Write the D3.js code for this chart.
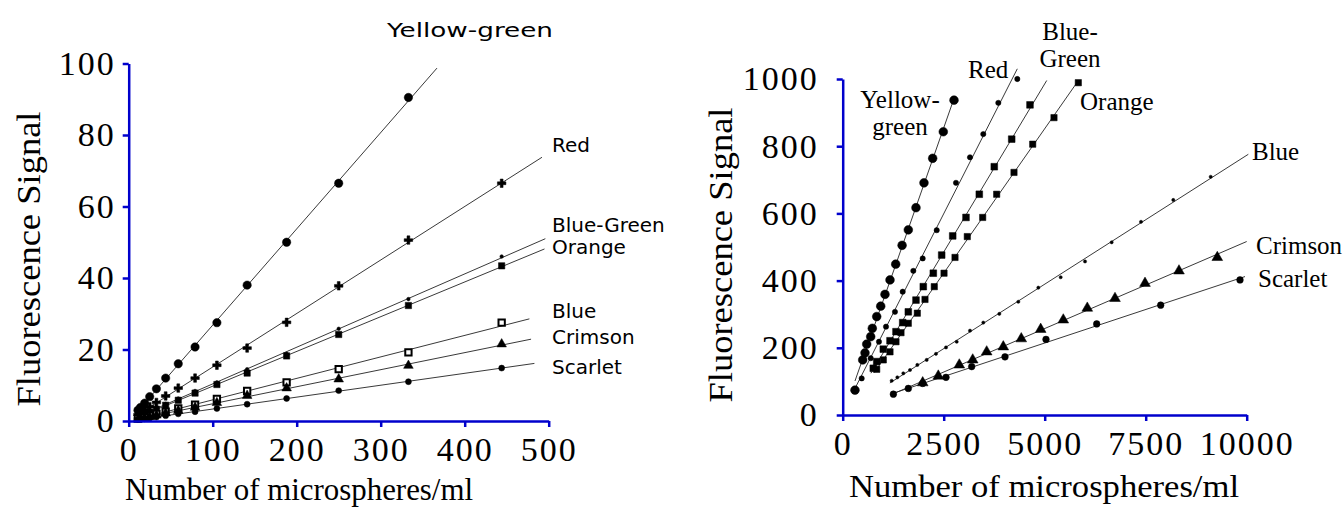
<!DOCTYPE html>
<html>
<head>
<meta charset="utf-8">
<script src="https://cdn.jsdelivr.net/npm/d3@7"></script>
<style>
  body { margin: 0; background: #fff; }
  svg { display: block; }
</style>
</head>
<body>
<svg id="chart" width="1343" height="508"></svg>
<script>
// ---- data: left panel (low range, microspheres/ml up to 500) ----
const seriesNames = ["Yellow-green", "Red", "Blue-Green", "Orange", "Blue", "Crimson", "Scarlet"];

const lowX = [444, 333, 250, 188, 141, 105, 79, 59, 44, 33, 25, 19, 14, 11];
const lowYellowGreen = [null, 90.5, 66.5, 50, 38, 27.5, 20.7, 16, 12, 9, 6.8, 5, 3.8, 3];
const lowRed = [66.5, 50.6, 37.8, 27.6, 20.4, 15.6, 12, 9.2, 7, 5.2, 4, 3.1, 2.3, 1.8];
const lowBlueGreen = [46, 34.1, 25.8, 18.8, 14.5, 10.8, 8.4, 6.3, 4.8, 3.6, 2.7, 2.1, 1.6, 1.2];
const lowOrange = [43.4, 32.3, 24.2, 18.2, 13.4, 10.2, 7.8, 5.8, 4.4, 3.3, 2.5, 1.9, 1.4, 1.1];
const lowBlue = [27.5, 19.2, 14.5, 10.8, 8.4, 6.2, 4.6, 3.5, 2.6, 2, 1.5, 1.1, 0.9, 0.7];
const lowCrimson = [21.5, 15.5, 11.7, 9.2, 7.1, 5.1, 3.8, 2.9, 2.2, 1.6, 1.2, 0.9, 0.7, 0.5];
const lowScarlet = [14.8, 11, 8.5, 6.3, 4.7, 3.5, 2.6, 2, 1.5, 1.1, 0.8, 0.6, 0.5, 0.4];
// x range of each fitted line
const lowFitFrom = [6, 6, 6, 6, 6, 6, 6];
const lowFitTo = [367, 492, 496, 495, 477, 479, 483];
const lowXTicks = [0, 100, 200, 300, 400, 500];
const lowYTicks = [0, 20, 40, 60, 80, 100];

// ---- data: right panel (high range, up to 10000) ----
const hiYellowGreenX = [2755, 2490, 2227, 2012, 1814, 1624, 1470, 1312, 1171, 1047, 941, 842, 733, 693, 594, 552, 495, 304];
const hiYellowGreenY = [937, 843, 764, 691, 617, 551, 505, 449, 402, 359, 324, 293, 258, 233, 211, 185, 164, 74];
const hiRedX = [4322, 3852, 3480, 3151, 2804, 2327, 1980, 1748, 1485, 1294, 1072, 898, 693, 470];
const hiRedY = [1000, 929, 836, 767, 691, 550, 466, 429, 367, 307, 263, 218, 169, 109];
const hiBlueGreenX = [4636, 4183, 3752, 3381, 3052, 2723, 2450, 2243, 1995, 1814, 1624, 1485, 1319, 1171, 1005, 842, 757];
const hiBlueGreenY = [923, 821, 739, 657, 588, 533, 476, 422, 382, 342, 307, 275, 248, 221, 196, 159, 139];
const hiOrangeX = [5832, 5230, 4703, 4240, 3811, 3465, 3084, 2780, 2508, 2267, 2037, 1847, 1624, 1443, 1319, 1171, 1005, 842];
const hiOrangeY = [989, 885, 806, 722, 657, 588, 531, 469, 422, 382, 344, 303, 273, 245, 218, 188, 164, 136];
const hiBlueX = [9109, 8183, 7384, 6658, 5998, 5396, 4842, 4347, 3877, 3480, 3151, 2822, 2557, 2309, 2079, 1847, 1666, 1500, 1352, 1213];
const hiBlueY = [709, 640, 575, 514, 457, 410, 379, 337, 301, 275, 251, 218, 201, 182, 164, 149, 134, 124, 112, 102];
const hiCrimsonX = [9272, 8324, 7483, 6740, 6054, 5460, 4901, 4420, 3975, 3564, 3218, 2886, 2366, 1980];
const hiCrimsonY = [469, 429, 392, 347, 318, 283, 255, 227, 203, 188, 164, 149, 116, 96];
const hiScarletX = [9834, 7871, 6287, 5032, 4017, 3193, 2557, 1980, 1624, 1254];
const hiScarletY = [402, 327, 271, 225, 173, 144, 112, 94, 79, 62];
const hiFitFrom = [304, 330, 700, 780, 1168, 1213, 1213];
const hiFitTo = [2755, 4322, 5050, 5832, 10040, 10000, 9958];
const hiXTicks = [0, 2500, 5000, 7500, 10000];
const hiYTicks = [0, 200, 400, 600, 800, 1000];

const xTitle = "Number of microspheres/ml";
const yTitle = "Fluorescence Signal";

// marker look per series (same order as seriesNames)
const lowMarks = [
  {shape: d3.symbolCircle, size: 55, fill: true},
  {shape: d3.symbolCross, size: 40, fill: true},
  {shape: d3.symbolCircle, size: 10, fill: true},
  {shape: d3.symbolSquare, size: 40, fill: true},
  {shape: d3.symbolSquare, size: 40, fill: false},
  {shape: d3.symbolTriangle, size: 40, fill: true},
  {shape: d3.symbolCircle, size: 28, fill: true}
];
const hiMarks = [
  {shape: d3.symbolCircle, size: 60, fill: true},
  {shape: d3.symbolCircle, size: 22, fill: true},
  {shape: d3.symbolSquare, size: 45, fill: true},
  {shape: d3.symbolSquare, size: 40, fill: true},
  {shape: d3.symbolCircle, size: 8, fill: true},
  {shape: d3.symbolTriangle, size: 50, fill: true},
  {shape: d3.symbolCircle, size: 35, fill: true}
];

const serif = '"Liberation Serif", "Times New Roman", serif';
const sans = '"DejaVu Sans", sans-serif';
const axisBlue = "#0000cc";

const svg = d3.select("#chart");

// least squares fit, used to draw each straight line
function fit(xs, ys) {
  const pts = xs.map((x, i) => [x, ys[i]]).filter(p => p[1] != null);
  const mx = d3.mean(pts, p => p[0]), my = d3.mean(pts, p => p[1]);
  const sxy = d3.sum(pts, p => (p[0] - mx) * (p[1] - my));
  const sxx = d3.sum(pts, p => (p[0] - mx) * (p[0] - mx));
  const b = sxy / sxx;
  return {b: b, a: my - b * mx};
}

function drawPanel(opt) {
  const g = svg.append("g");
  const x = d3.scaleLinear().domain(opt.xDomain).range(opt.xRange);
  const y = d3.scaleLinear().domain(opt.yDomain).range(opt.yRange);

  // fitted lines
  opt.series.forEach((s, i) => {
    const f = fit(s.xs, s.ys);
    const x0 = opt.fitFrom[i], x1 = opt.fitTo[i];
    g.append("line")
      .attr("x1", x(x0)).attr("y1", y(f.a + f.b * x0))
      .attr("x2", x(x1)).attr("y2", y(f.a + f.b * x1))
      .attr("stroke", "#222").attr("stroke-width", 0.9);
  });

  // points
  opt.series.forEach((s, i) => {
    const m = opt.marks[i];
    const pts = s.xs.map((v, j) => [v, s.ys[j]]).filter(p => p[1] != null);
    g.append("g").selectAll("path")
      .data(pts)
      .enter()
      .append("path")
      .attr("transform", d => "translate(" + x(d[0]) + "," + y(d[1]) + ")")
      .attr("d", d3.symbol().type(m.shape).size(m.size))
      .attr("fill", m.fill ? "#000" : "#fff")
      .attr("stroke", "#000")
      .attr("stroke-width", m.fill ? 0.5 : 2);
  });

  // axes
  const xa = g.append("g")
    .attr("transform", "translate(0," + opt.yRange[0] + ")")
    .call(d3.axisBottom(x).tickValues(opt.xTicks).tickSize(6).tickSizeOuter(0).tickPadding(10).tickFormat(d3.format("d")));
  const ya = g.append("g")
    .attr("transform", "translate(" + opt.xRange[0] + ",0)")
    .call(d3.axisLeft(y).tickValues(opt.yTicks).tickSize(6).tickSizeOuter(0).tickPadding(opt.yPad).tickFormat(d3.format("d")));
  [xa, ya].forEach(a => {
    a.attr("font-family", serif).attr("font-size", 34);
    a.select(".domain").attr("stroke", axisBlue).attr("stroke-width", 2.5);
    a.selectAll(".tick line").attr("stroke", axisBlue).attr("stroke-width", 2.5);
    a.selectAll(".tick text")
      .attr("font-family", serif).attr("font-size", 34).attr("fill", "#000")
      .style("letter-spacing", "2px");
  });

  // titles
  g.append("text")
    .attr("x", opt.xTitleAt[0]).attr("y", opt.xTitleAt[1])
    .attr("text-anchor", "middle")
    .attr("font-family", serif).attr("font-size", 32)
    .attr("textLength", opt.xTitleLen).attr("lengthAdjust", "spacingAndGlyphs")
    .text(xTitle);
  g.append("text")
    .attr("transform", "translate(" + opt.yTitleAt[0] + "," + opt.yTitleAt[1] + ") rotate(-90)")
    .attr("text-anchor", "middle")
    .attr("font-family", serif).attr("font-size", 33)
    .attr("textLength", 295).attr("lengthAdjust", "spacingAndGlyphs")
    .text(yTitle);

  // series labels
  opt.labels.forEach(l => {
    const t = g.append("text")
      .attr("font-family", opt.labelFont).attr("font-size", opt.labelSize)
      .attr("text-anchor", l.anchor || "start")
      .attr("fill", "#000");
    l.lines.forEach((line, k) => {
      const ts = t.append("tspan").attr("x", l.at[0]).attr("y", l.at[1] + k * opt.labelLead).text(line);
      if (l.len) ts.attr("textLength", l.len).attr("lengthAdjust", "spacingAndGlyphs");
    });
  });
}

drawPanel({
  xDomain: [0, 500], xRange: [128.7, 548.7],
  yDomain: [0, 100], yRange: [421, 63.5],
  xTicks: lowXTicks, yTicks: lowYTicks, yPad: 7,
  series: [
    {xs: lowX, ys: lowYellowGreen}, {xs: lowX, ys: lowRed}, {xs: lowX, ys: lowBlueGreen},
    {xs: lowX, ys: lowOrange}, {xs: lowX, ys: lowBlue}, {xs: lowX, ys: lowCrimson}, {xs: lowX, ys: lowScarlet}
  ],
  fitFrom: lowFitFrom, fitTo: lowFitTo, marks: lowMarks,
  xTitleAt: [299, 500], xTitleLen: 348,
  yTitleAt: [40, 259],
  labelFont: sans, labelSize: 20, labelLead: 22,
  labels: [
    {lines: [seriesNames[0]], at: [470, 37], anchor: "middle", len: 166},
    {lines: [seriesNames[1]], at: [552, 152]},
    {lines: [seriesNames[2]], at: [552, 232]},
    {lines: [seriesNames[3]], at: [552, 254]},
    {lines: [seriesNames[4]], at: [552, 318]},
    {lines: [seriesNames[5]], at: [552, 344]},
    {lines: [seriesNames[6]], at: [552, 374]}
  ]
});

drawPanel({
  xDomain: [0, 10000], xRange: [842.7, 1246.7],
  yDomain: [0, 1000], yRange: [415, 79],
  xTicks: hiXTicks, yTicks: hiYTicks, yPad: 18,
  series: [
    {xs: hiYellowGreenX, ys: hiYellowGreenY}, {xs: hiRedX, ys: hiRedY}, {xs: hiBlueGreenX, ys: hiBlueGreenY},
    {xs: hiOrangeX, ys: hiOrangeY}, {xs: hiBlueX, ys: hiBlueY}, {xs: hiCrimsonX, ys: hiCrimsonY}, {xs: hiScarletX, ys: hiScarletY}
  ],
  fitFrom: hiFitFrom, fitTo: hiFitTo, marks: hiMarks,
  xTitleAt: [1044, 497], xTitleLen: 390,
  yTitleAt: [732, 255],
  labelFont: serif, labelSize: 25, labelLead: 27,
  labels: [
    {lines: ["Yellow-", "green"], at: [900, 108], anchor: "middle"},
    {lines: ["Red"], at: [968, 78]},
    {lines: ["Blue-", "Green"], at: [1070, 40], anchor: "middle"},
    {lines: ["Orange"], at: [1080, 110]},
    {lines: ["Blue"], at: [1252, 160]},
    {lines: ["Crimson"], at: [1256, 254]},
    {lines: ["Scarlet"], at: [1258, 287]}
  ]
});
</script>
</body>
</html>
